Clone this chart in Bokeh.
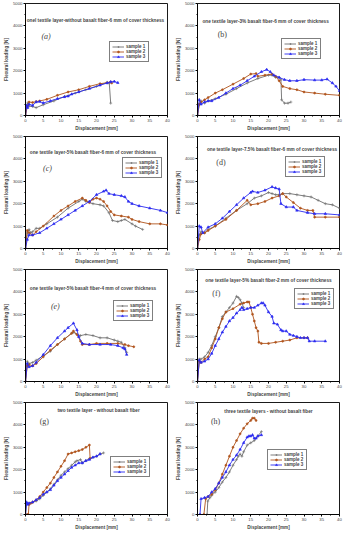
from bokeh.plotting import figure
from bokeh.layouts import gridplot
from bokeh.models import Legend, LegendItem, Range1d, FixedTicker, Label
from bokeh.embed import file_html
from bokeh.resources import INLINE

titles = [
    "onel textile layer-without basalt fiber-6 mm of cover thickness",
    "one textile layer-3% basalt fiber-6 mm of cover thickness",
    "one textile layer-5% basalt fiber-6 mm of cover thickness",
    "one textile layer-7.5% basalt fiber-6 mm of cover thickness",
    "one textile layer-5% basalt fiber-4 mm of cover thickness",
    "one textile layer-5% basalt fiber-2 mm of cover thickness",
    "two textile layer - without basalt fiber",
    "three textile layers - without basalt fiber",
]
letters = ["(a)", "(b)", "(c)", "(d)", "(e)", "(f)", "(g)", "(h)"]
series_names = ["sample 1", "sample 2", "sample 3"]
x_ticks = [0, 5, 10, 15, 20, 25, 30, 35, 40]
y_ticks = [0, 1000, 2000, 3000, 4000, 5000]

# (a)
a1_x = [0, 0.3, 0.6, 1.0, 2.0, 3.0, 5, 8, 11, 14, 17, 20, 23, 23.6, 24.0]
a1_y = [0, 350, 560, 420, 400, 350, 480, 650, 850, 1000, 1150, 1300, 1480, 1450, 550]
a2_x = [0, 0.5, 1, 2, 3, 4, 6, 9, 12, 15, 18, 21, 23, 24, 24.3]
a2_y = [0, 400, 600, 580, 620, 650, 720, 900, 1050, 1150, 1300, 1420, 1460, 1500, 1450]
a3_x = [0, 0.3, 0.6, 1, 2, 3, 4, 5, 7, 9, 11, 12, 13, 15, 18, 21, 23, 24, 25, 26]
a3_y = [0, 450, 350, 500, 450, 600, 620, 560, 650, 750, 830, 860, 950, 1050, 1200, 1350, 1450, 1500, 1520, 1460]
# (b)
b1_x = [0, 0.5, 1, 2, 3, 5, 8, 11, 14, 17, 20, 21, 22, 23, 23.5, 23.7, 24.5, 25.5, 26.3]
b1_y = [0, 500, 650, 550, 650, 750, 950, 1200, 1450, 1650, 1800, 1800, 1700, 1700, 1600, 700, 550, 550, 600]
b2_x = [0, 0.5, 1, 2, 3, 5, 7, 10, 13, 15, 16.5, 17, 19, 21, 22, 23, 24, 26, 28, 30, 33, 36, 40]
b2_y = [0, 500, 600, 700, 800, 1000, 1150, 1400, 1650, 1850, 1870, 1750, 1800, 1850, 1750, 1550, 1300, 1200, 1150, 1050, 1000, 950, 900]
b3_x = [0, 0.5, 1, 2, 3, 4, 6, 8, 10, 12, 14, 16, 18, 19.5, 20.5, 21.5, 23, 24.5, 26, 28, 30, 33, 35, 36.5, 38, 39, 40]
b3_y = [0, 700, 500, 600, 650, 650, 800, 1000, 1200, 1350, 1550, 1750, 1950, 2050, 1950, 1800, 1700, 1600, 1550, 1550, 1600, 1580, 1580, 1620, 1450, 1300, 1100]
# (c)
c1_x = [0, 0.5, 1, 1.5, 2, 3, 4, 6, 9, 12, 15, 16, 17, 19, 21, 22, 23.5, 24.5, 26, 27, 28, 30, 31, 33]
c1_y = [0, 700, 850, 700, 750, 900, 900, 1100, 1400, 1800, 2100, 2200, 2100, 2000, 1950, 1900, 1600, 1250, 1200, 1250, 1300, 1100, 1000, 850]
c2_x = [0, 0.5, 1, 2, 3, 5, 8, 10, 12, 14, 16, 17, 18, 19, 20, 21, 22, 23, 24, 25, 27, 29, 30, 32, 35, 38, 40]
c2_y = [0, 800, 700, 600, 750, 1000, 1450, 1700, 1900, 2100, 2250, 2150, 2050, 2200, 2250, 2200, 2100, 1900, 1650, 1500, 1450, 1400, 1300, 1200, 1100, 1100, 1050]
c3_x = [0, 0.5, 1, 2, 4, 6, 8, 10, 12, 14, 16, 18, 20, 22, 22.7, 23.5, 25, 27, 28, 29, 30, 32, 35, 38, 40]
c3_y = [0, 400, 600, 600, 700, 900, 1100, 1300, 1500, 1700, 1900, 2100, 2400, 2550, 2600, 2450, 2400, 2350, 2300, 2100, 2000, 1900, 1800, 1700, 1600]
# (d)
d1_x = [0, 0.5, 1, 2, 3, 5, 8, 11, 14, 16, 18, 20, 21, 22, 23, 24, 26, 28, 30, 32, 34, 36, 38, 40]
d1_y = [0, 600, 750, 700, 850, 1000, 1350, 1700, 2000, 2250, 2350, 2500, 2450, 2400, 2400, 2450, 2450, 2400, 2350, 2300, 2150, 2000, 1950, 1800]
d2_x = [0, 0.5, 1, 2, 3, 5, 8, 11, 14, 15, 17, 19, 21, 23, 24, 25, 27, 29, 31, 32.5, 33, 36, 40]
d2_y = [0, 400, 650, 700, 800, 1000, 1300, 1700, 2150, 1950, 2000, 2100, 2250, 2350, 2450, 2300, 2050, 1800, 1700, 1700, 1400, 1400, 1400]
d3_x = [0, 0.5, 1, 1.5, 3, 5, 7, 9, 11, 13, 15, 15.5, 17, 19, 21, 22, 23, 23.5, 25, 27, 28, 31, 33, 36, 40]
d3_y = [0, 1000, 950, 700, 950, 1100, 1350, 1650, 1950, 2250, 2500, 2550, 2500, 2600, 2750, 2700, 2650, 2000, 1850, 1850, 1700, 1600, 1550, 1550, 1500]
# (e)
e1_x = [0, 0.5, 1, 2, 3, 5, 7, 9, 11, 13, 13.5, 14.5, 15.5, 17, 19, 21, 23, 25, 26, 27, 28, 28.5]
e1_y = [0, 900, 800, 850, 950, 1150, 1350, 1650, 1900, 2150, 2200, 2100, 2050, 2100, 2050, 1950, 1950, 1850, 1800, 1750, 1500, 1300]
e2_x = [0, 0.5, 1, 2, 3, 5, 7, 9, 11, 13, 13.5, 14.5, 15.5, 16, 18, 20, 23, 26, 28, 29, 30.5]
e2_y = [0, 700, 750, 700, 800, 1100, 1400, 1650, 1900, 2150, 2250, 2100, 1800, 1650, 1650, 1700, 1700, 1700, 1650, 1600, 1550]
e3_x = [0, 0.5, 1, 2, 3, 5, 7, 9, 11, 12, 13.5, 14.5, 15, 16, 18, 21, 24, 26, 27.5, 28, 28.5]
e3_y = [0, 800, 650, 700, 850, 1200, 1600, 1950, 2250, 2400, 2600, 2300, 2000, 1700, 1650, 1650, 1650, 1600, 1500, 1450, 1200]
# (f)
f1_x = [0, 0.5, 1, 2, 3, 4, 5, 6, 7, 8, 9, 10, 11, 11.5, 12, 12.5, 13]
f1_y = [0, 1000, 1000, 1100, 1300, 1600, 2000, 2400, 2900, 3100, 3300, 3500, 3800, 3750, 3650, 3500, 3300]
f2_x = [0, 0.5, 1, 2, 3, 4, 5, 6, 7, 8, 10, 12, 13, 14, 14.5, 15, 15.5, 16, 16.5, 17, 17.3, 18, 20, 22, 24, 26, 28, 30, 31]
f2_y = [0, 900, 850, 1000, 1100, 1500, 1900, 2400, 2800, 3100, 3250, 3450, 3500, 3550, 3550, 3300, 3000, 2700, 2400, 2250, 1750, 1700, 1700, 1750, 1800, 1850, 1950, 1950, 1950]
f3_x = [0, 0.5, 1, 2, 3, 4, 5, 6, 7, 8, 9, 10, 11, 12, 12.5, 13, 14, 15, 16, 17, 18, 18.5, 19, 20, 21, 21.5, 22.5, 23.5, 24, 25, 26, 27, 28, 29, 30, 31, 31.5, 33, 36]
f3_y = [0, 950, 850, 900, 1000, 1250, 1600, 1900, 2200, 2450, 2700, 2850, 3050, 3200, 3300, 3200, 3250, 3300, 3300, 3400, 3500, 3500, 3400, 3100, 2900, 2600, 2550, 2300, 2250, 2250, 2100, 2050, 2000, 1950, 1950, 1950, 1800, 1800, 1800]
# (g)
g1_x = [0, 0.3, 0.6, 1, 2, 3, 4, 5, 6, 7, 8, 9, 10, 11, 12, 13, 14, 14.5, 15.5, 16, 17, 18, 19, 20, 21, 22]
g1_y = [0, 450, 500, 500, 550, 600, 700, 850, 1000, 1150, 1350, 1550, 1750, 1900, 2050, 2200, 2350, 2400, 2450, 2300, 2400, 2500, 2550, 2600, 2700, 2750]
g2_x = [0, 0.5, 0.8, 1, 1.5, 2, 3, 4, 5, 6, 7, 8, 9, 10, 11, 12, 13, 14, 15, 16, 17, 18, 18.2]
g2_y = [0, 0, 0, 450, 500, 550, 650, 800, 1000, 1200, 1400, 1650, 1900, 2150, 2400, 2700, 2750, 2800, 2850, 2900, 3000, 3100, 2500]
g3_x = [0, 0.3, 0.6, 1, 2, 3, 4, 5, 6, 7, 8, 9, 10, 11, 12, 13, 14, 15, 16, 17, 18, 19, 20, 21]
g3_y = [0, 550, 450, 500, 550, 650, 750, 900, 1000, 1100, 1300, 1500, 1650, 1800, 1950, 2100, 2200, 2300, 2300, 2400, 2450, 2550, 2600, 2700]
# (h)
h1_x = [2.7, 2.9, 3.5, 4, 5, 6, 7, 8, 9, 10, 11, 11.5, 12, 12.5, 13, 14, 15, 16, 17, 18]
h1_y = [0, 600, 750, 850, 1000, 1200, 1450, 1650, 1900, 2200, 2450, 2600, 2700, 2600, 2800, 3100, 3200, 3300, 3500, 3700]
h2_x = [1.8, 2.3, 3, 4, 5, 6, 7, 8, 9, 10, 11, 12, 13, 14, 15, 15.5, 16, 16.5]
h2_y = [0, 700, 800, 900, 1100, 1400, 1800, 2200, 2600, 3000, 3300, 3600, 3850, 4050, 4200, 4300, 4300, 4200]
h3_x = [0.7, 1.0, 2, 3, 4, 5, 6, 7, 8, 9, 10, 11, 12, 13, 14, 14.5, 15, 15.5, 16, 16.5, 17, 18]
h3_y = [0, 700, 750, 800, 1000, 1150, 1400, 1650, 1900, 2200, 2450, 2650, 2900, 3200, 3450, 3500, 3500, 3550, 3400, 3400, 3500, 3550]

panels = [
    [(a1_x, a1_y), (a2_x, a2_y), (a3_x, a3_y)],
    [(b1_x, b1_y), (b2_x, b2_y), (b3_x, b3_y)],
    [(c1_x, c1_y), (c2_x, c2_y), (c3_x, c3_y)],
    [(d1_x, d1_y), (d2_x, d2_y), (d3_x, d3_y)],
    [(e1_x, e1_y), (e2_x, e2_y), (e3_x, e3_y)],
    [(f1_x, f1_y), (f2_x, f2_y), (f3_x, f3_y)],
    [(g1_x, g1_y), (g2_x, g2_y), (g3_x, g3_y)],
    [(h1_x, h1_y), (h2_x, h2_y), (h3_x, h3_y)],
]

# layout / style settings (not data)
title_pos = [(19.7, 4257), (19.2, 4218), (19, 4283), (21, 4440), (19, 4143), (20, 4509), (20.6, 4648), (20, 4620)]
letter_pos = [(5.8, 3530), (7, 3600), (6.2, 3580), (6.6, 3850), (8.4, 3357), (5.3, 3920), (5.3, 4130), (5.1, 4130)]
letter_italic = [True, False, True, False, True, False, False, False]
legend_loc = [(84, 53), (84, 56), (97, 70), (88, 71), (88, 60), (97, 72), (85, 37), (70, 44)]
colors = ["#6e6e6e", "#b0541c", "#2a2af0"]
markers = ["cross", "circle", "triangle"]
msizes = [3, 2, 2.5]

FONT = "Liberation Sans"
figs = []
for i in range(8):
    p = figure(width=172, height=133, output_backend="svg", toolbar_location=None,
               x_range=Range1d(0, 40), y_range=Range1d(0, 5000),
               min_border_left=21, min_border_right=5, min_border_top=3, min_border_bottom=13)
    p.grid.visible = False
    p.outline_line_color = "black"
    p.outline_line_width = 0.9
    p.background_fill_color = "white"
    for ax in (p.xaxis, p.yaxis):
        ax.major_label_text_font_size = "4.3px"
        ax.major_label_text_font = FONT
        ax.axis_label_text_font_size = "4.6px"
        ax.axis_label_text_font_style = "bold"
        ax.axis_label_text_font = FONT
        ax.axis_label_standoff = 1
        ax.major_label_standoff = 1
        ax.major_tick_out = 2
        ax.major_tick_in = 0
        ax.minor_tick_out = 1
        ax.minor_tick_in = 0
        ax.axis_line_width = 0.9
    p.xaxis.ticker = FixedTicker(ticks=x_ticks, minor_ticks=[x + 2.5 for x in x_ticks[:-1]])
    p.yaxis.ticker = FixedTicker(ticks=y_ticks, minor_ticks=[y + 500 for y in y_ticks[:-1]])
    p.xaxis.axis_label = "Displacement [mm]"
    p.yaxis.axis_label = "Flexural loading [N]"

    items = []
    for k, (xs, ys) in enumerate(panels[i]):
        r1 = p.line(xs, ys, line_color=colors[k], line_width=0.9)
        r2 = p.scatter(xs, ys, marker=markers[k], size=msizes[k], line_color=colors[k],
                       fill_color=colors[k], line_width=0.6)
        items.append(LegendItem(label=series_names[k], renderers=[r1, r2]))
    leg = Legend(items=items, location=legend_loc[i], label_text_font_size="4.5px",
                 label_text_font_style="bold", label_text_font=FONT,
                 glyph_width=12, glyph_height=5, label_height=5, label_standoff=2,
                 spacing=0, padding=2, margin=0, border_line_color="black",
                 border_line_width=0.6, background_fill_alpha=1)
    p.add_layout(leg)

    tx, ty = title_pos[i]
    p.add_layout(Label(x=tx, y=ty, text=titles[i], text_align="center", text_baseline="middle",
                       text_font_size="4.7px", text_font_style="bold", text_font=FONT))
    lx, ly = letter_pos[i]
    p.add_layout(Label(x=lx, y=ly, text=letters[i], text_align="center", text_baseline="middle",
                       text_font_size="8px", text_font="Liberation Serif",
                       text_font_style="italic" if letter_italic[i] else "normal"))
    figs.append(p)

grid = gridplot(figs, ncols=2, toolbar_location=None)
open("out.html", "w").write(file_html(grid, INLINE))
